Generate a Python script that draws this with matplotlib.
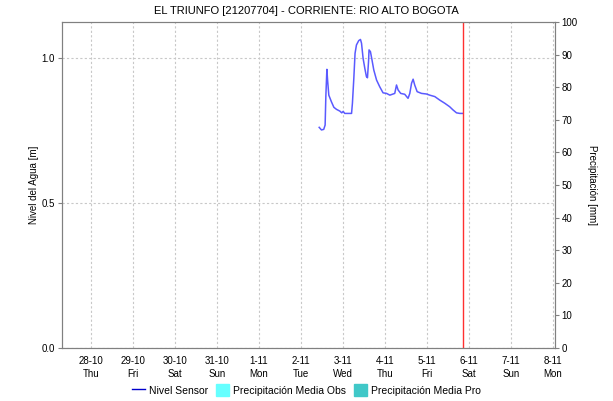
import matplotlib
matplotlib.use("Agg")
import matplotlib.pyplot as plt
from matplotlib.lines import Line2D
from matplotlib.patches import Patch
import pandas as pd

# sensor readings, hours counted from 2-11 00:00
hours = [10.5, 11.8, 13.1, 13.9, 14.3, 14.9, 15.3, 16.0, 17.5, 18.9, 20.4, 22.3,
         23.4, 24.2, 25.1, 29.0, 29.5, 30.3, 31.0, 31.8, 33.1, 34.1, 34.7, 35.6,
         36.6, 37.5, 38.1, 38.7, 39.0, 39.8, 40.7, 41.7, 43.3, 45.1, 47.0, 49.0,
         50.9, 53.7, 54.7, 55.6, 57.1, 59.4, 61.3, 62.3, 63.3, 64.2, 65.1, 66.5,
         69.0, 71.8, 73.7, 76.6, 79.4, 82.3, 85.1, 87.0, 89.0, 90.9, 92.8]
nivel = [0.761, 0.752, 0.754, 0.769, 0.867, 0.961, 0.924, 0.872, 0.849, 0.830, 0.823, 0.817,
         0.811, 0.816, 0.809, 0.809, 0.844, 0.930, 1.016, 1.045, 1.060, 1.064, 1.051, 0.999,
         0.964, 0.936, 0.932, 0.987, 1.028, 1.022, 0.993, 0.959, 0.924, 0.901, 0.880, 0.878,
         0.872, 0.878, 0.907, 0.890, 0.878, 0.875, 0.861, 0.878, 0.913, 0.927, 0.907, 0.884,
         0.878, 0.876, 0.872, 0.867, 0.855, 0.844, 0.832, 0.821, 0.811, 0.809, 0.809]

start = pd.Timestamp("2021-11-02 00:00")
times = [start + pd.Timedelta(hours=h) for h in hours]

dias = pd.date_range("2021-10-28", "2021-11-08", freq="D")
ahora = pd.Timestamp("2021-11-05 20:45")
xmin = pd.Timestamp("2021-10-27 07:26")
xmax = pd.Timestamp("2021-11-08 01:10")

plt.rcParams["font.family"] = ["Liberation Sans", "DejaVu Sans"]
plt.rcParams["font.size"] = 7

fig = plt.figure(figsize=(6.13, 4.01), dpi=100)
ax = fig.add_axes([0.101, 0.132, 0.804, 0.813])
ax2 = ax.twinx()

ax.plot(times, nivel, color="#5a5aff", lw=1.1)
ax.axvline(ahora, color="#ff3030", lw=1)

ax.set_xlim(xmin, xmax)
ax.set_ylim(0, 1.124)
ax.set_yticks([0.0, 0.5, 1.0])
ax.set_yticklabels(["0.0", "0.5", "1.0"])
ax.set_xticks(dias)
ax.set_xticklabels([f"{d.day}-{d.month}\n{d:%a}" for d in dias], linespacing=1.3)
ax.tick_params(axis="x", length=0, pad=6)
ax.tick_params(axis="y", length=3, color="#808080", pad=2)
ax.grid(True, color="#c8c8c8", ls=(0, (2, 2)), lw=0.8)

ax2.set_ylim(0, 100)
ax2.set_yticks(range(0, 101, 10))
ax2.tick_params(axis="y", length=3, color="#808080", pad=2)

for a in (ax, ax2):
    for s in a.spines.values():
        s.set_color("#808080")

ax.set_ylabel("Nivel del Agua [m]", labelpad=2)
ax2.set_ylabel("Precipitación [mm]", rotation=270, labelpad=14)
fig.suptitle("EL TRIUNFO [21207704] - CORRIENTE: RIO ALTO BOGOTA", y=0.985, fontsize=8)

handles = [Line2D([], [], color="#0000cc", lw=1),
           Patch(color="#66ffff"),
           Patch(color="#40c8c8")]
fig.legend(handles, ["Nivel Sensor", "Precipitación Media Obs", "Precipitación Media Pro"],
           loc="center", bbox_to_anchor=(0.5, 0.027), ncol=3, frameon=False,
           handlelength=1.2, handleheight=1.4, handletextpad=0.4, columnspacing=0.8,
           fontsize=7.5)

fig.savefig("out.png", dpi=100)
